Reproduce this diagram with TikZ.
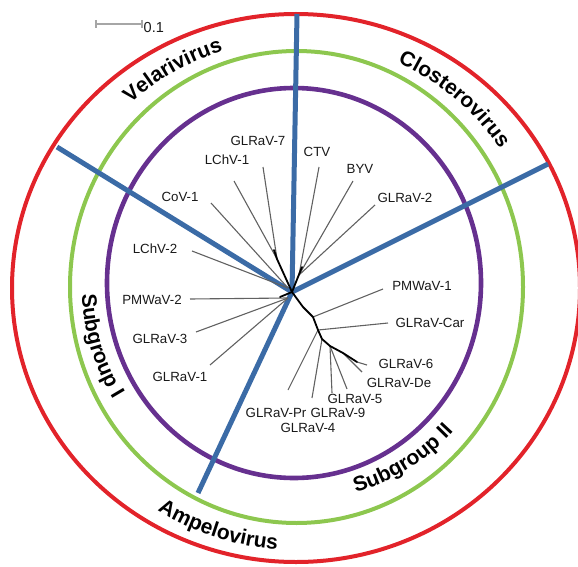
\documentclass[tikz,border=0pt]{standalone}
\usepackage{fontspec}
\setmainfont{Liberation Sans}
\usetikzlibrary{decorations.text}
\definecolor{cred}{HTML}{E2232A}
\definecolor{cgreen}{HTML}{8DC74F}
\definecolor{cpurple}{HTML}{66308F}
\definecolor{cblue}{HTML}{3B6BA6}
\begin{document}
\begin{tikzpicture}[x=1pt,y=1pt,
  leaf/.style={font=\fontsize{13.3}{15}\selectfont, inner sep=0pt, text=black!90},
  branch/.style={black!62, line width=1.1pt},
  innerb/.style={black, line width=1.8pt, line cap=round, line join=round},
  ring/.style={line width=4pt},
  sector/.style={cblue, line width=5pt},
  curved/.style={decorate, decoration={text along path, text align=center}}]
\useasboundingbox (0,0) rectangle (578,-567);
% rings
\draw[ring, cred] (296,-288) ellipse [x radius=284pt, y radius=274pt];
\draw[ring, cgreen] (296.5,-287) ellipse [x radius=226.5pt, y radius=236pt];
\draw[ring, cpurple, line width=4.6pt] (294,-283) ellipse [x radius=187pt, y radius=195pt];
% sector lines
\coordinate (C) at (292,-292);
\coordinate (sTop) at (297,-14);
\coordinate (sUL) at (57,-147);
\coordinate (sUR) at (548,-164);
\coordinate (sLL) at (198,-493);
\draw[sector] (sTop) -- (C);
\draw[sector] (sUL) -- (C);
\draw[sector] (sUR) -- (C);
\draw[sector] (sLL) -- (C);
% internal tree nodes
\coordinate (A) at (277,-259);
\coordinate (Ab) at (274,-250);
\coordinate (B) at (299,-275);
\coordinate (Bb) at (302,-267);
\coordinate (D) at (288,-288);
\coordinate (E) at (288,-298);
\coordinate (Eb) at (280,-297);
\coordinate (P1) at (303,-307);
\coordinate (P2) at (313,-317);
\coordinate (P3) at (318,-330);
\coordinate (P4) at (322,-339);
\coordinate (P5) at (330,-346);
\coordinate (P6) at (343,-353);
\coordinate (P7) at (357,-362);
% leaf ends
\coordinate (lG7) at (263,-167);
\coordinate (lL1) at (234,-181);
\coordinate (lCo) at (211,-203);
\coordinate (lL2) at (192,-251);
\coordinate (lP2) at (190,-299);
\coordinate (lG3) at (196,-332);
\coordinate (lG1) at (210,-365);
\coordinate (lCT) at (319,-167);
\coordinate (lBY) at (353,-181);
\coordinate (lG2) at (375,-205);
\coordinate (lP1) at (383,-289);
\coordinate (lCa) at (388,-323);
\coordinate (lG6) at (367,-365);
\coordinate (lDe) at (362,-372);
\coordinate (lG5) at (347,-389);
\coordinate (lG9) at (332,-393);
\coordinate (lG4) at (312,-398);
\coordinate (lPr) at (288,-390);
% leaf branches
\draw[branch] (A) -- (lG7);
\draw[branch] (A) -- (lL1);
\draw[branch] (D) -- (lCo);
\draw[branch] (D) -- (lL2);
\draw[branch] (E) -- (lP2);
\draw[branch] (E) -- (lG3);
\draw[branch] (E) -- (lG1);
\draw[branch] (B) -- (lCT);
\draw[branch] (B) -- (lBY);
\draw[branch] (B) -- (lG2);
\draw[branch] (P2) -- (lP1);
\draw[branch] (P3) -- (lCa);
\draw[branch] (P3) -- (lPr);
\draw[branch] (P4) -- (lG4);
\draw[branch] (P5) -- (lG9);
\draw[branch] (P5) -- (lG5);
\draw[branch] (P6) -- (lDe);
\draw[branch] (P7) -- (lG6);
% internal branches
\draw[innerb] (C) -- (A) -- (Ab);
\draw[innerb] (C) -- (Bb);
\draw[innerb] (C) -- (Eb);
\draw[innerb] (C) -- (P1) -- (P2) -- (P3) -- (P4) -- (P5) -- (P6) -- (P7);
% labels
\node[leaf] (tG7) at (258,-141) {GLRaV-7};
\node[leaf] (tL1) at (227,-160) {LChV-1};
\node[leaf] (tCo) at (180,-197) {CoV-1};
\node[leaf] (tL2) at (155,-249) {LChV-2};
\node[leaf] (tP2) at (152,-300) {PMWaV-2};
\node[leaf] (tG3) at (160,-339) {GLRaV-3};
\node[leaf] (tG1) at (180,-377) {GLRaV-1};
\node[leaf] (tCT) at (317,-152) {CTV};
\node[leaf] (tBY) at (360,-169) {BYV};
\node[leaf] (tG2) at (405,-198) {GLRaV-2};
\node[leaf] (tP1) at (422,-286) {PMWaV-1};
\node[leaf] (tCa) at (430,-323) {GLRaV-Car};
\node[leaf] (tG6) at (406,-364) {GLRaV-6};
\node[leaf] (tDe) at (399,-383) {GLRaV-De};
\node[leaf] (tG5) at (355,-399) {GLRaV-5};
\node[leaf] (tG9) at (338,-413) {GLRaV-9};
\node[leaf] (tPr) at (276,-413) {GLRaV-Pr};
\node[leaf] (tG4) at (308,-428) {GLRaV-4};
% scale bar
\coordinate (sb1) at (96,-24);
\coordinate (sb2) at (142,-24);
\draw[black!35, line width=1.6pt] (sb1) -- (sb2);
\draw[black!35, line width=1.3pt] ([yshift=4pt]sb1) -- ([yshift=-4pt]sb1);
\draw[black!35, line width=1.3pt] ([yshift=4pt]sb2) -- ([yshift=-4pt]sb2);
\node[leaf, anchor=west, font=\fontsize{14.5}{16}\selectfont] (sbl) at (143.5,-27.5) {0.1};
% curved group names
\path[curved, decoration={text={|\bfseries\fontsize{21}{25}\selectfont|Velarivirus}}]
  (296,-288) ++(149.5:248pt) arc[start angle=149.5, end angle=89.5, radius=248pt];
\path[curved, decoration={text={|\bfseries\fontsize{21}{25}\selectfont|Closterovirus}}]
  (296,-288) ++(85:247pt) arc[start angle=85, end angle=15, radius=247pt];
\path[curved, decoration={text={|\bfseries\fontsize{21}{25}\selectfont|Ampelovirus}}]
  (296,-288) ++(217:262pt) arc[start angle=217, end angle=287, radius=262pt];
\path[curved, decoration={text={|\bfseries\fontsize{21}{25}\selectfont|Subgroup II}}]
  (296,-288) ++(267:213pt) arc[start angle=267, end angle=337, radius=213pt];
\path[curved, decoration={text={|\bfseries\fontsize{21}{25}\selectfont|Subgroup I}}]
  (296,-288) ++(166:214pt) arc[start angle=166, end angle=227, radius=214pt];
\end{tikzpicture}
\end{document}
